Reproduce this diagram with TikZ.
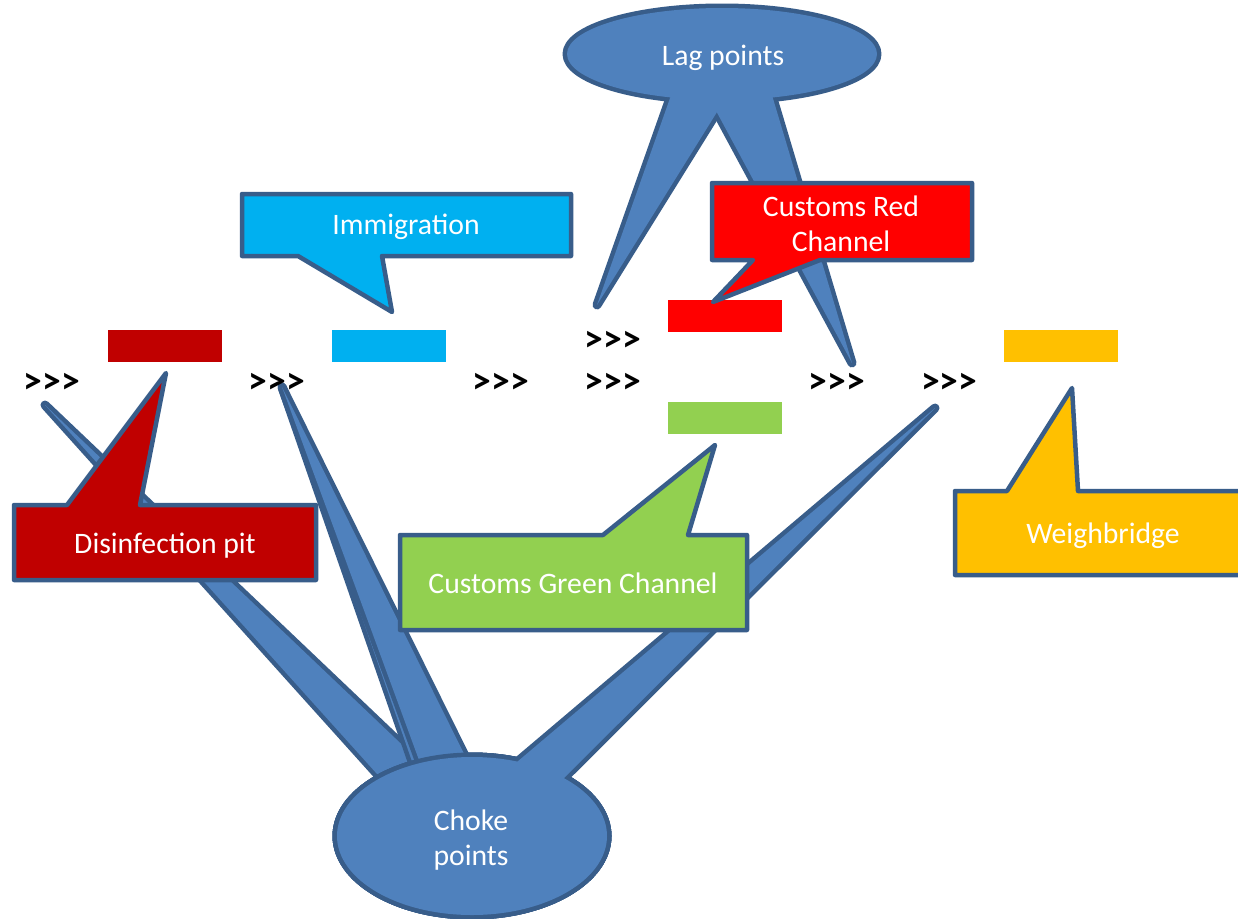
\documentclass[tikz,border=0pt]{standalone}
\usepackage{fontspec}
\setmainfont{Carlito}
\definecolor{olc}{HTML}{385D8A}
\definecolor{bfill}{HTML}{4F81BD}
\definecolor{dred}{HTML}{C00000}
\definecolor{sky}{HTML}{00B0F0}
\definecolor{bred}{HTML}{FF0000}
\definecolor{lgreen}{HTML}{92D050}
\definecolor{amber}{HTML}{FFC000}
\newcommand{\chev}{>\kern0pt>\kern0pt>}
\tikzset{
  outl/.style={draw=olc, line width=9pt, line join=round},
  blobfill/.style={fill=bfill},
  callout/.style={draw=olc, line width=4.5pt, line join=round},
  lbl/.style={text=white, font=\fontsize{29.7}{35.5}\selectfont, align=center, inner sep=0pt},
  arrs/.style={text=black, font=\fontsize{37.5}{40}\selectfont\bfseries, inner sep=0pt},
  bar/.style={inner sep=0pt, minimum width=114pt, minimum height=32pt, draw=none}
}
\begin{document}
\begin{tikzpicture}[x=1pt,y=-1pt]
\useasboundingbox (0,0) rectangle (1238,918);
\fill[white] (0,0) rectangle (1238,918);
\clip (0,0) rectangle (1238,918);

% ---- Choke points callout (stacked layers) ----
% layer 1
\draw[outl] (472,836) ellipse [x radius=135pt, y radius=79pt];
\draw[outl] (45,405) -- (413,814) -- (457,797) -- cycle;
\fill[blobfill] (472,836) ellipse [x radius=135pt, y radius=79pt];
\fill[blobfill] (45,405) -- (413,814) -- (457,797) -- cycle;
% layer 2
\draw[outl] (472,836) ellipse [x radius=135pt, y radius=79pt];
\draw[outl] (282,387) -- (415,770) -- (430,781) -- cycle;
\fill[blobfill] (472,836) ellipse [x radius=135pt, y radius=79pt];
\fill[blobfill] (282,387) -- (415,770) -- (430,781) -- cycle;
% layer 3
\draw[outl] (472,836) ellipse [x radius=135pt, y radius=79pt];
\draw[outl] (282,387) -- (430,790) -- (483,792) -- cycle;
\fill[blobfill] (472,836) ellipse [x radius=135pt, y radius=79pt];
\fill[blobfill] (282,387) -- (430,790) -- (483,792) -- cycle;
% layer 4
\draw[outl] (472,836) ellipse [x radius=135pt, y radius=79pt];
\draw[outl] (935,408) -- (478,795) -- (525,817) -- cycle;
\fill[blobfill] (472,836) ellipse [x radius=135pt, y radius=79pt];
\fill[blobfill] (935,408) -- (478,795) -- (525,817) -- cycle;
\node[lbl] (choke) at (471,840) {Choke\\points};

% ---- Lag points callout ----
\draw[outl] (722,54) ellipse [x radius=155pt, y radius=46pt];
\draw[outl] (597,305) -- (681,67) -- (745,67) -- cycle;
\draw[outl] (852,363) -- (687,57) -- (760,55) -- cycle;
\fill[blobfill] (722,54) ellipse [x radius=155pt, y radius=46pt];
\fill[blobfill] (597,305) -- (681,67) -- (745,67) -- cycle;
\fill[blobfill] (852,363) -- (687,57) -- (760,55) -- cycle;
\node[lbl] (lag) at (723,58) {Lag points};

% ---- bars ----
\node[bar, fill=dred]   (b1) at (165,346) {};
\node[bar, fill=sky]    (b2) at (389,346) {};
\node[bar, fill=bred]   (b3) at (725,315.5) {};
\node[bar, fill=lgreen] (b4) at (725,417.5) {};
\node[bar, fill=amber]  (b5) at (1061,346) {};

% ---- coloured callouts ----
\filldraw[callout, fill=dred] (14,505) -- (67,505) -- (166,373) -- (140,505) -- (316,505) -- (316,580) -- (14,580) -- cycle;
\node[lbl] (dis) at (165,546) {Disinfection pit};

\filldraw[callout, fill=sky] (242,194) -- (571,194) -- (571,256) -- (382,256) -- (392,312) -- (298,256) -- (242,256) -- cycle;
\node[lbl] (imm) at (406,227) {Immigration};

\filldraw[callout, fill=bred] (712,183) -- (972,183) -- (972,260) -- (820,260) -- (713,302) -- (753,260) -- (712,260) -- cycle;
\node[lbl] (red) at (841,224) {Customs Red\\Channel};

\filldraw[callout, fill=lgreen] (400,535) -- (603,535) -- (715,445) -- (688,535) -- (747,535) -- (747,630) -- (400,630) -- cycle;
\node[lbl] (green) at (573,583) {Customs Green Channel};

\filldraw[callout, fill=amber] (955,491) -- (1007,491) -- (1072,388) -- (1078,491) -- (1251,491) -- (1251,575) -- (955,575) -- cycle;
\node[lbl] (weigh) at (1103,536) {Weighbridge};

% ---- >>> markers ----
\node[arrs] (a1) at (52,383) {\chev};
\node[arrs] (a2) at (277,383) {\chev};
\node[arrs] (a3) at (501,383) {\chev};
\node[arrs] (a4) at (613,383) {\chev};
\node[arrs] (a5) at (613,341) {\chev};
\node[arrs] (a6) at (837,383) {\chev};
\node[arrs] (a7) at (949,383) {\chev};
\end{tikzpicture}
\end{document}
